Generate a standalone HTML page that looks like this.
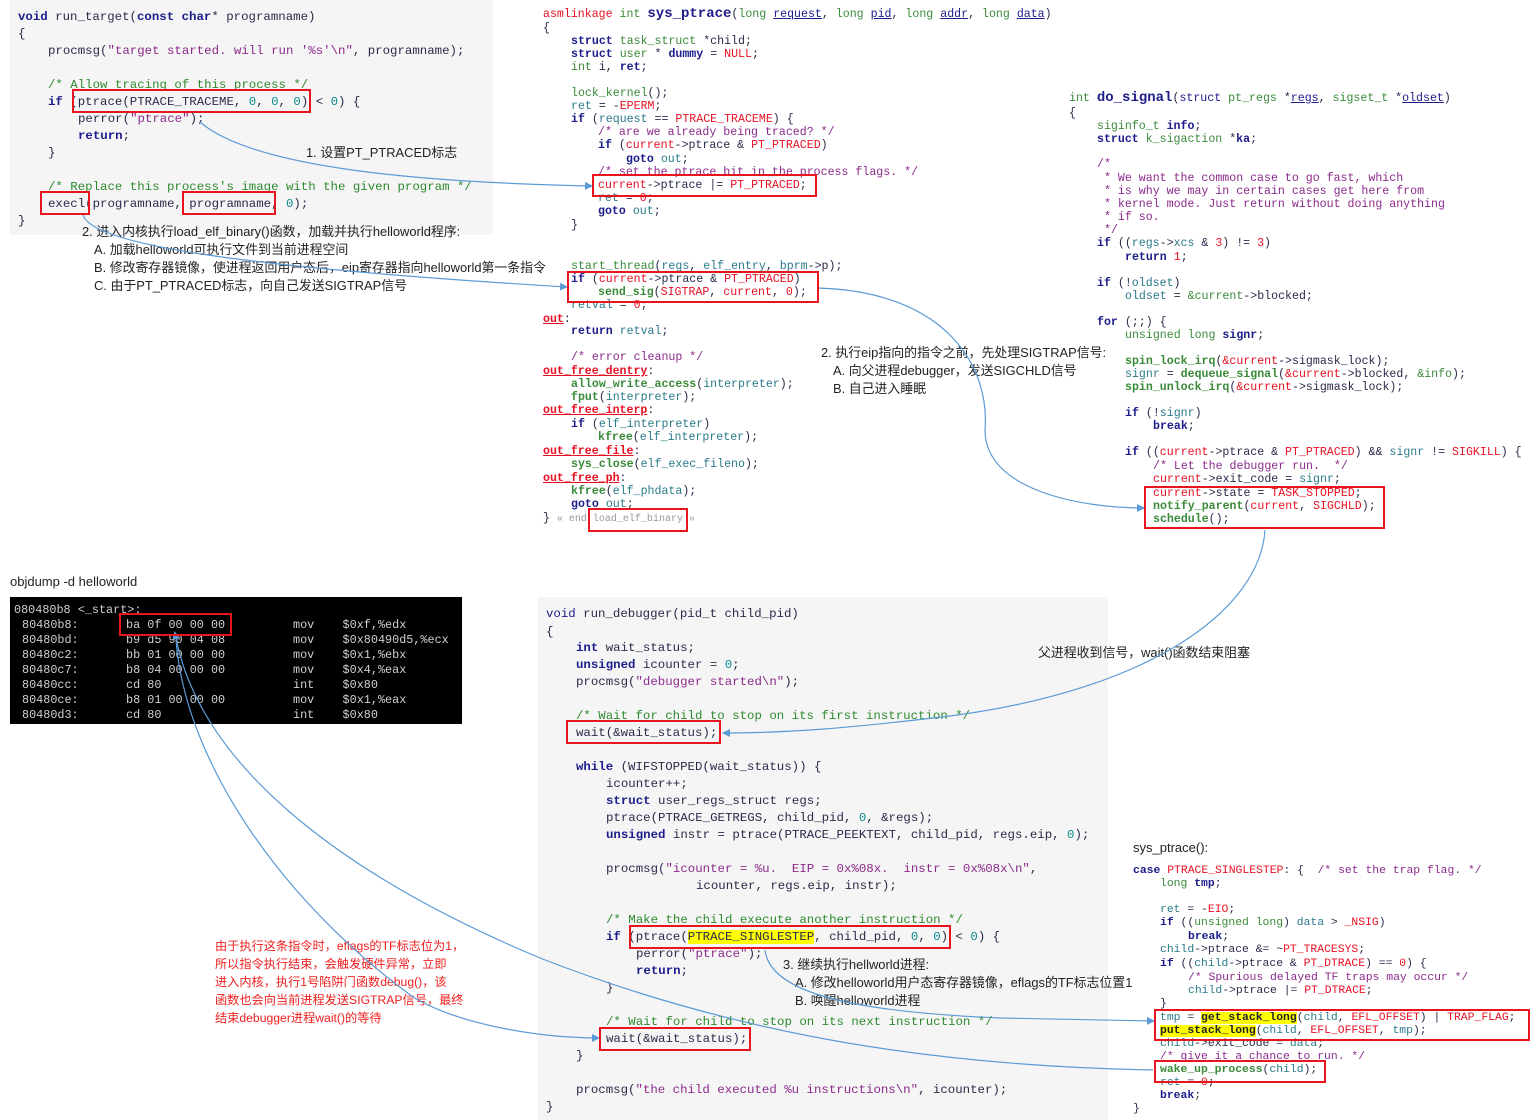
<!DOCTYPE html>
<html><head><meta charset="utf-8">
<style>
body{margin:0;width:1537px;height:1120px;background:#fff;position:relative;overflow:hidden;font-family:"Liberation Mono",monospace;color:#2a2a4a}
.l{position:absolute;white-space:pre;line-height:16px;height:16px}
.a{font-size:12.4px}.b{font-size:11.6px}.d{font-size:11.4px}
.k{color:#1c1c8a;font-weight:bold}
.c{color:#2e8b2e}
.s{color:#8b2a8b}
.n{color:#0a8a8a}
.r{color:#e81123}
.g{color:#3a8a3a}
.t{color:#2a7a8a}
.u{text-decoration:underline;color:#1c1c8a}
.y{background:#ffff00}
.ann{position:absolute;white-space:pre;font-family:"Liberation Sans","Noto Sans CJK SC",sans-serif;font-size:12.9px;color:#222;line-height:16px}
.red{color:#f02020;font-size:12.2px}
.bg{position:absolute;background:#f5f5f5}
.ob{position:absolute;left:10px;top:597px;width:452px;height:127px;background:#000}
.o{position:absolute;white-space:pre;font-size:11.8px;color:#d0d0d0;line-height:15px}
svg{position:absolute;left:0;top:0}
</style></head><body>
<div class="bg" style="left:10px;top:0;width:483px;height:235px"></div>
<div class="bg" style="left:538px;top:597px;width:570px;height:523px"></div>

<!-- run_target -->
<div class="l a" style="left:18px;top:9px"><span class="k">void</span> run_target(<span class="k">const</span> <span class="k">char</span>* programname)</div>
<div class="l a" style="left:18px;top:26px">{</div>
<div class="l a" style="left:48px;top:43px">procmsg(<span class="s">"target started. will run '%s'\n"</span>, programname);</div>
<div class="l a" style="left:48px;top:77px"><span class="c">/* Allow tracing of this process */</span></div>
<div class="l a" style="left:48px;top:94px"><span class="k">if</span> (ptrace(PTRACE_TRACEME, <span class="n">0</span>, <span class="n">0</span>, <span class="n">0</span>) &lt; <span class="n">0</span>) {</div>
<div class="l a" style="left:78px;top:111px">perror(<span class="s">"ptrace"</span>);</div>
<div class="l a" style="left:78px;top:128px"><span class="k">return</span>;</div>
<div class="l a" style="left:48px;top:145px">}</div>
<div class="l a" style="left:48px;top:179px"><span class="c">/* Replace this process's image with the given program */</span></div>
<div class="l a" style="left:48px;top:196px">execl(programname, programname, <span class="n">0</span>);</div>
<div class="l a" style="left:18px;top:213px">}</div>

<!-- sys_ptrace top -->
<div class="l b" style="left:543px;top:6px"><span class="r">asmlinkage</span> <span class="g">int</span> <span class="k" style="font-size:14px">sys_ptrace</span>(<span class="g">long</span> <span class="u">request</span>, <span class="g">long</span> <span class="u">pid</span>, <span class="g">long</span> <span class="u">addr</span>, <span class="g">long</span> <span class="u">data</span>)</div>
<div class="l b" style="left:543px;top:21px">{</div>
<div class="l b" style="left:571px;top:34px"><span class="k">struct</span> <span class="g">task_struct</span> *child;</div>
<div class="l b" style="left:571px;top:47px"><span class="k">struct</span> <span class="g">user</span> * <span class="k">dummy</span> = <span class="r">NULL</span>;</div>
<div class="l b" style="left:571px;top:60px"><span class="g">int</span> i, <span class="k">ret</span>;</div>
<div class="l b" style="left:571px;top:86px"><span class="g">lock_kernel</span>();</div>
<div class="l b" style="left:571px;top:99px"><span class="t">ret</span> = -<span class="r">EPERM</span>;</div>
<div class="l b" style="left:571px;top:112px"><span class="k">if</span> (<span class="t">request</span> == <span class="r">PTRACE_TRACEME</span>) {</div>
<div class="l b" style="left:598px;top:125px"><span class="s">/* are we already being traced? */</span></div>
<div class="l b" style="left:598px;top:138px"><span class="k">if</span> (<span class="r">current</span>-&gt;ptrace &amp; <span class="r">PT_PTRACED</span>)</div>
<div class="l b" style="left:626px;top:152px"><span class="k">goto</span> <span class="t">out</span>;</div>
<div class="l b" style="left:598px;top:165px"><span class="s">/* set the ptrace bit in the process flags. */</span></div>
<div class="l b" style="left:598px;top:178px"><span class="r">current</span>-&gt;ptrace |= <span class="r">PT_PTRACED</span>;</div>
<div class="l b" style="left:598px;top:191px"><span class="t">ret</span> = <span class="r">0</span>;</div>
<div class="l b" style="left:598px;top:204px"><span class="k">goto</span> <span class="t">out</span>;</div>
<div class="l b" style="left:571px;top:218px">}</div>
<div class="l b" style="left:571px;top:259px"><span class="g">start_thread</span>(<span class="t">regs</span>, <span class="t">elf_entry</span>, <span class="t">bprm</span>-&gt;p);</div>
<div class="l b" style="left:571px;top:272px"><span class="k">if</span> (<span class="r">current</span>-&gt;ptrace &amp; <span class="r">PT_PTRACED</span>)</div>
<div class="l b" style="left:598px;top:285px"><span class="g" style="font-weight:bold">send_sig</span>(<span class="r">SIGTRAP</span>, <span class="r">current</span>, <span class="r">0</span>);</div>
<div class="l b" style="left:571px;top:298px"><span class="t">retval</span> = <span class="r">0</span>;</div>
<div class="l b" style="left:543px;top:312px"><span class="r" style="text-decoration:underline;font-weight:bold">out</span>:</div>
<div class="l b" style="left:571px;top:324px"><span class="k">return</span> <span class="t">retval</span>;</div>
<div class="l b" style="left:571px;top:350px"><span class="s">/* error cleanup */</span></div>
<div class="l b" style="left:543px;top:364px"><span class="r" style="text-decoration:underline;font-weight:bold">out_free_dentry</span>:</div>
<div class="l b" style="left:571px;top:377px"><span class="g" style="font-weight:bold">allow_write_access</span>(<span class="t">interpreter</span>);</div>
<div class="l b" style="left:571px;top:390px"><span class="g" style="font-weight:bold">fput</span>(<span class="t">interpreter</span>);</div>
<div class="l b" style="left:543px;top:403px"><span class="r" style="text-decoration:underline;font-weight:bold">out_free_interp</span>:</div>
<div class="l b" style="left:571px;top:417px"><span class="k">if</span> (<span class="t">elf_interpreter</span>)</div>
<div class="l b" style="left:598px;top:430px"><span class="g" style="font-weight:bold">kfree</span>(<span class="t">elf_interpreter</span>);</div>
<div class="l b" style="left:543px;top:444px"><span class="r" style="text-decoration:underline;font-weight:bold">out_free_file</span>:</div>
<div class="l b" style="left:571px;top:457px"><span class="g" style="font-weight:bold">sys_close</span>(<span class="t">elf_exec_fileno</span>);</div>
<div class="l b" style="left:543px;top:471px"><span class="r" style="text-decoration:underline;font-weight:bold">out_free_ph</span>:</div>
<div class="l b" style="left:571px;top:484px"><span class="g" style="font-weight:bold">kfree</span>(<span class="t">elf_phdata</span>);</div>
<div class="l b" style="left:571px;top:497px"><span class="k">goto</span> <span class="t">out</span>;</div>
<div class="l b" style="left:543px;top:511px">} <span style="color:#999;font-size:10px">« end load_elf_binary »</span></div>

<!-- do_signal -->
<div class="l b" style="left:1069px;top:90px"><span class="g">int</span> <span class="k" style="font-size:14px">do_signal</span>(<span class="k" style="font-weight:normal">struct</span> <span class="g">pt_regs</span> *<span class="u">regs</span>, <span class="g">sigset_t</span> *<span class="u">oldset</span>)</div>
<div class="l b" style="left:1069px;top:106px">{</div>
<div class="l b" style="left:1097px;top:119px"><span class="g">siginfo_t</span> <span class="k">info</span>;</div>
<div class="l b" style="left:1097px;top:132px"><span class="k">struct</span> <span class="g">k_sigaction</span> *<span class="k">ka</span>;</div>
<div class="l b" style="left:1097px;top:157px"><span class="s">/*</span></div>
<div class="l b" style="left:1104px;top:171px"><span class="s">* We want the common case to go fast, which</span></div>
<div class="l b" style="left:1104px;top:184px"><span class="s">* is why we may in certain cases get here from</span></div>
<div class="l b" style="left:1104px;top:197px"><span class="s">* kernel mode. Just return without doing anything</span></div>
<div class="l b" style="left:1104px;top:210px"><span class="s">* if so.</span></div>
<div class="l b" style="left:1104px;top:223px"><span class="s">*/</span></div>
<div class="l b" style="left:1097px;top:236px"><span class="k">if</span> ((<span class="t">regs</span>-&gt;<span class="t">xcs</span> &amp; <span class="r">3</span>) != <span class="r">3</span>)</div>
<div class="l b" style="left:1125px;top:250px"><span class="k">return</span> <span class="r">1</span>;</div>
<div class="l b" style="left:1097px;top:276px"><span class="k">if</span> (!<span class="t">oldset</span>)</div>
<div class="l b" style="left:1125px;top:289px"><span class="t">oldset</span> = <span class="g">&amp;current</span>-&gt;blocked;</div>
<div class="l b" style="left:1097px;top:315px"><span class="k">for</span> (;;) {</div>
<div class="l b" style="left:1125px;top:328px"><span class="g">unsigned long</span> <span class="k">signr</span>;</div>
<div class="l b" style="left:1125px;top:354px"><span class="g" style="font-weight:bold">spin_lock_irq</span>(<span class="r">&amp;current</span>-&gt;sigmask_lock);</div>
<div class="l b" style="left:1125px;top:367px"><span class="t">signr</span> = <span class="g" style="font-weight:bold">dequeue_signal</span>(<span class="r">&amp;current</span>-&gt;blocked, <span class="g">&amp;info</span>);</div>
<div class="l b" style="left:1125px;top:380px"><span class="g" style="font-weight:bold">spin_unlock_irq</span>(<span class="r">&amp;current</span>-&gt;sigmask_lock);</div>
<div class="l b" style="left:1125px;top:406px"><span class="k">if</span> (!<span class="t">signr</span>)</div>
<div class="l b" style="left:1153px;top:419px"><span class="k">break</span>;</div>
<div class="l b" style="left:1125px;top:445px"><span class="k">if</span> ((<span class="r">current</span>-&gt;ptrace &amp; <span class="r">PT_PTRACED</span>) &amp;&amp; <span class="t">signr</span> != <span class="r">SIGKILL</span>) {</div>
<div class="l b" style="left:1153px;top:459px"><span class="s">/* Let the debugger run.  */</span></div>
<div class="l b" style="left:1153px;top:472px"><span class="r">current</span>-&gt;exit_code = <span class="t">signr</span>;</div>
<div class="l b" style="left:1153px;top:486px"><span class="r">current</span>-&gt;state = <span class="r">TASK_STOPPED</span>;</div>
<div class="l b" style="left:1153px;top:499px"><span class="g" style="font-weight:bold">notify_parent</span>(<span class="r">current</span>, <span class="r">SIGCHLD</span>);</div>
<div class="l b" style="left:1153px;top:512px"><span class="g" style="font-weight:bold">schedule</span>();</div>

<!-- objdump -->
<div class="ann" style="left:10px;top:574px;font-size:13px">objdump -d helloworld</div>
<div class="ob"></div>
<div class="o" style="left:14px;top:603px">080480b8 &lt;_start&gt;:</div>
<div class="o" style="left:22px;top:618px">80480b8:</div><div class="o" style="left:126px;top:618px">ba 0f 00 00 00</div><div class="o" style="left:293px;top:618px">mov    $0xf,%edx</div>
<div class="o" style="left:22px;top:633px">80480bd:</div><div class="o" style="left:126px;top:633px">b9 d5 90 04 08</div><div class="o" style="left:293px;top:633px">mov    $0x80490d5,%ecx</div>
<div class="o" style="left:22px;top:648px">80480c2:</div><div class="o" style="left:126px;top:648px">bb 01 00 00 00</div><div class="o" style="left:293px;top:648px">mov    $0x1,%ebx</div>
<div class="o" style="left:22px;top:663px">80480c7:</div><div class="o" style="left:126px;top:663px">b8 04 00 00 00</div><div class="o" style="left:293px;top:663px">mov    $0x4,%eax</div>
<div class="o" style="left:22px;top:678px">80480cc:</div><div class="o" style="left:126px;top:678px">cd 80</div><div class="o" style="left:293px;top:678px">int    $0x80</div>
<div class="o" style="left:22px;top:693px">80480ce:</div><div class="o" style="left:126px;top:693px">b8 01 00 00 00</div><div class="o" style="left:293px;top:693px">mov    $0x1,%eax</div>
<div class="o" style="left:22px;top:708px">80480d3:</div><div class="o" style="left:126px;top:708px">cd 80</div><div class="o" style="left:293px;top:708px">int    $0x80</div>

<!-- run_debugger -->
<div class="l a" style="left:546px;top:606px"><span class="k" style="font-weight:normal">void</span> run_debugger(pid_t child_pid)</div>
<div class="l a" style="left:546px;top:624px">{</div>
<div class="l a" style="left:576px;top:640px"><span class="k">int</span> wait_status;</div>
<div class="l a" style="left:576px;top:657px"><span class="k">unsigned</span> icounter = <span class="n">0</span>;</div>
<div class="l a" style="left:576px;top:674px">procmsg(<span class="s">"debugger started\n"</span>);</div>
<div class="l a" style="left:576px;top:708px"><span class="c">/* Wait for child to stop on its first instruction */</span></div>
<div class="l a" style="left:576px;top:725px">wait(&amp;wait_status);</div>
<div class="l a" style="left:576px;top:759px"><span class="k">while</span> (WIFSTOPPED(wait_status)) {</div>
<div class="l a" style="left:606px;top:776px">icounter++;</div>
<div class="l a" style="left:606px;top:793px"><span class="k">struct</span> user_regs_struct regs;</div>
<div class="l a" style="left:606px;top:810px">ptrace(PTRACE_GETREGS, child_pid, <span class="n">0</span>, &amp;regs);</div>
<div class="l a" style="left:606px;top:827px"><span class="k">unsigned</span> instr = ptrace(PTRACE_PEEKTEXT, child_pid, regs.eip, <span class="n">0</span>);</div>
<div class="l a" style="left:606px;top:861px">procmsg(<span class="s">"icounter = %u.  EIP = 0x%08x.  instr = 0x%08x\n"</span>,</div>
<div class="l a" style="left:696px;top:878px">icounter, regs.eip, instr);</div>
<div class="l a" style="left:606px;top:912px"><span class="c">/* Make the child execute another instruction */</span></div>
<div class="l a" style="left:606px;top:929px"><span class="k">if</span> (ptrace(<span class="y">PTRACE_SINGLESTEP</span>, child_pid, <span class="n">0</span>, <span class="n">0</span>) &lt; <span class="n">0</span>) {</div>
<div class="l a" style="left:636px;top:946px">perror(<span class="s">"ptrace"</span>);</div>
<div class="l a" style="left:636px;top:963px"><span class="k">return</span>;</div>
<div class="l a" style="left:606px;top:980px">}</div>
<div class="l a" style="left:606px;top:1014px"><span class="c">/* Wait for child to stop on its next instruction */</span></div>
<div class="l a" style="left:606px;top:1031px">wait(&amp;wait_status);</div>
<div class="l a" style="left:576px;top:1048px">}</div>
<div class="l a" style="left:576px;top:1082px">procmsg(<span class="s">"the child executed %u instructions\n"</span>, icounter);</div>
<div class="l a" style="left:546px;top:1099px">}</div>

<!-- sys_ptrace bottom -->
<div class="ann" style="left:1133px;top:840px;font-size:13px">sys_ptrace():</div>
<div class="l d" style="left:1133px;top:863px"><span class="k">case</span> <span class="r">PTRACE_SINGLESTEP</span>: {  <span class="s">/* set the trap flag. */</span></div>
<div class="l d" style="left:1160px;top:876px"><span class="g">long</span> <span class="k">tmp</span>;</div>
<div class="l d" style="left:1160px;top:902px"><span class="t">ret</span> = -<span class="r">EIO</span>;</div>
<div class="l d" style="left:1160px;top:915px"><span class="k">if</span> ((<span class="g">unsigned long</span>) <span class="t">data</span> &gt; <span class="r">_NSIG</span>)</div>
<div class="l d" style="left:1188px;top:929px"><span class="k">break</span>;</div>
<div class="l d" style="left:1160px;top:942px"><span class="t">child</span>-&gt;ptrace &amp;= ~<span class="r">PT_TRACESYS</span>;</div>
<div class="l d" style="left:1160px;top:956px"><span class="k">if</span> ((<span class="t">child</span>-&gt;ptrace &amp; <span class="r">PT_DTRACE</span>) == <span class="r">0</span>) {</div>
<div class="l d" style="left:1188px;top:970px"><span class="s">/* Spurious delayed TF traps may occur */</span></div>
<div class="l d" style="left:1188px;top:983px"><span class="t">child</span>-&gt;ptrace |= <span class="r">PT_DTRACE</span>;</div>
<div class="l d" style="left:1160px;top:996px">}</div>
<div class="l d" style="left:1160px;top:1010px"><span class="t">tmp</span> = <span class="y g" style="font-weight:bold;color:#222">get_stack_long</span>(<span class="t">child</span>, <span class="r">EFL_OFFSET</span>) | <span class="r">TRAP_FLAG</span>;</div>
<div class="l d" style="left:1160px;top:1023px"><span class="y" style="font-weight:bold;color:#222">put_stack_long</span>(<span class="t">child</span>, <span class="r">EFL_OFFSET</span>, <span class="t">tmp</span>);</div>
<div class="l d" style="left:1160px;top:1036px"><span class="t">child</span>-&gt;exit_code = <span class="t">data</span>;</div>
<div class="l d" style="left:1160px;top:1049px"><span class="s">/* give it a chance to run. */</span></div>
<div class="l d" style="left:1160px;top:1062px"><span class="g" style="font-weight:bold">wake_up_process</span>(<span class="t">child</span>);</div>
<div class="l d" style="left:1160px;top:1075px"><span class="t">ret</span> = <span class="r">0</span>;</div>
<div class="l d" style="left:1160px;top:1088px"><span class="k">break</span>;</div>
<div class="l d" style="left:1133px;top:1101px">}</div>

<!-- annotations -->
<div class="ann" style="left:306px;top:145px">1. 设置PT_PTRACED标志</div>
<div class="ann" style="left:82px;top:224px">2. 进入内核执行load_elf_binary()函数，加载并执行helloworld程序:</div>
<div class="ann" style="left:94px;top:242px">A. 加载helloworld可执行文件到当前进程空间</div>
<div class="ann" style="left:94px;top:260px">B. 修改寄存器镜像，使进程返回用户态后，eip寄存器指向helloworld第一条指令</div>
<div class="ann" style="left:94px;top:278px">C. 由于PT_PTRACED标志，向自己发送SIGTRAP信号</div>
<div class="ann" style="left:821px;top:345px">2. 执行eip指向的指令之前，先处理SIGTRAP信号:</div>
<div class="ann" style="left:833px;top:363px">A. 向父进程debugger，发送SIGCHLD信号</div>
<div class="ann" style="left:833px;top:381px">B. 自己进入睡眠</div>
<div class="ann" style="left:1038px;top:645px">父进程收到信号，wait()函数结束阻塞</div>
<div class="ann" style="left:783px;top:957px">3. 继续执行hellworld进程:</div>
<div class="ann" style="left:795px;top:975px">A. 修改helloworld用户态寄存器镜像，eflags的TF标志位置1</div>
<div class="ann" style="left:795px;top:993px">B. 唤醒helloworld进程</div>
<div class="ann red" style="left:215px;top:937px;line-height:18px">由于执行这条指令时，eflags的TF标志位为1，
所以指令执行结束，会触发硬件异常，立即
进入内核，执行1号陷阱门函数debug()，该
函数也会向当前进程发送SIGTRAP信号，最终
结束debugger进程wait()的等待</div>

<svg width="1537" height="1120">
<defs><marker id="ar" markerWidth="8" markerHeight="8" refX="7" refY="4" orient="auto" markerUnits="userSpaceOnUse"><path d="M0,0 L8,4 L0,8 z" fill="#5b9bd5"/></marker>
<marker id="as" markerWidth="8" markerHeight="8" refX="1" refY="4" orient="auto-start-reverse" markerUnits="userSpaceOnUse"><path d="M0,0 L8,4 L0,8 z" fill="#5b9bd5"/></marker></defs>
<g fill="none" stroke="#5b9bd5" stroke-width="1.2">
<path d="M200,122 C250,165 400,182 592,186" marker-end="url(#ar)"/>
<path d="M83,214 C88,245 250,268 567,287" marker-end="url(#ar)"/>
<path d="M818,288 C950,292 990,370 985,430 C985,490 1080,508 1144,508" marker-end="url(#ar)"/>
<path d="M1265,530 C1260,610 1150,690 950,716 C850,728 790,733 723,733" marker-end="url(#ar)"/>
<path d="M176,638 C200,760 330,870 540,958 C750,1040 950,1066 1153,1070" marker-start="url(#as)"/>
<path d="M176,640 C185,760 280,900 413,997 C460,1025 540,1038 599,1038" marker-end="url(#ar)"/>
<path d="M765,950 C770,995 860,1012 1000,1018 L1154,1021" marker-end="url(#ar)"/>
</g>
<g fill="none" stroke="#e8141e" stroke-width="2">
<rect x="73" y="90" width="237" height="22"/>
<rect x="41" y="192" width="48" height="22"/>
<rect x="183" y="192" width="92" height="22"/>
<rect x="593" y="175" width="223" height="21"/>
<rect x="568" y="272" width="250" height="30"/>
<rect x="589" y="509" width="98" height="22"/>
<rect x="1145" y="487" width="239" height="41"/>
<rect x="120" y="614" width="111" height="21"/>
<rect x="567" y="721" width="153" height="22"/>
<rect x="630" y="926" width="320" height="22"/>
<rect x="600" y="1028" width="150" height="22"/>
<rect x="1155" y="1010" width="374" height="30"/>
<rect x="1155" y="1061" width="170" height="21"/>
</g>
</svg>
</body></html>
